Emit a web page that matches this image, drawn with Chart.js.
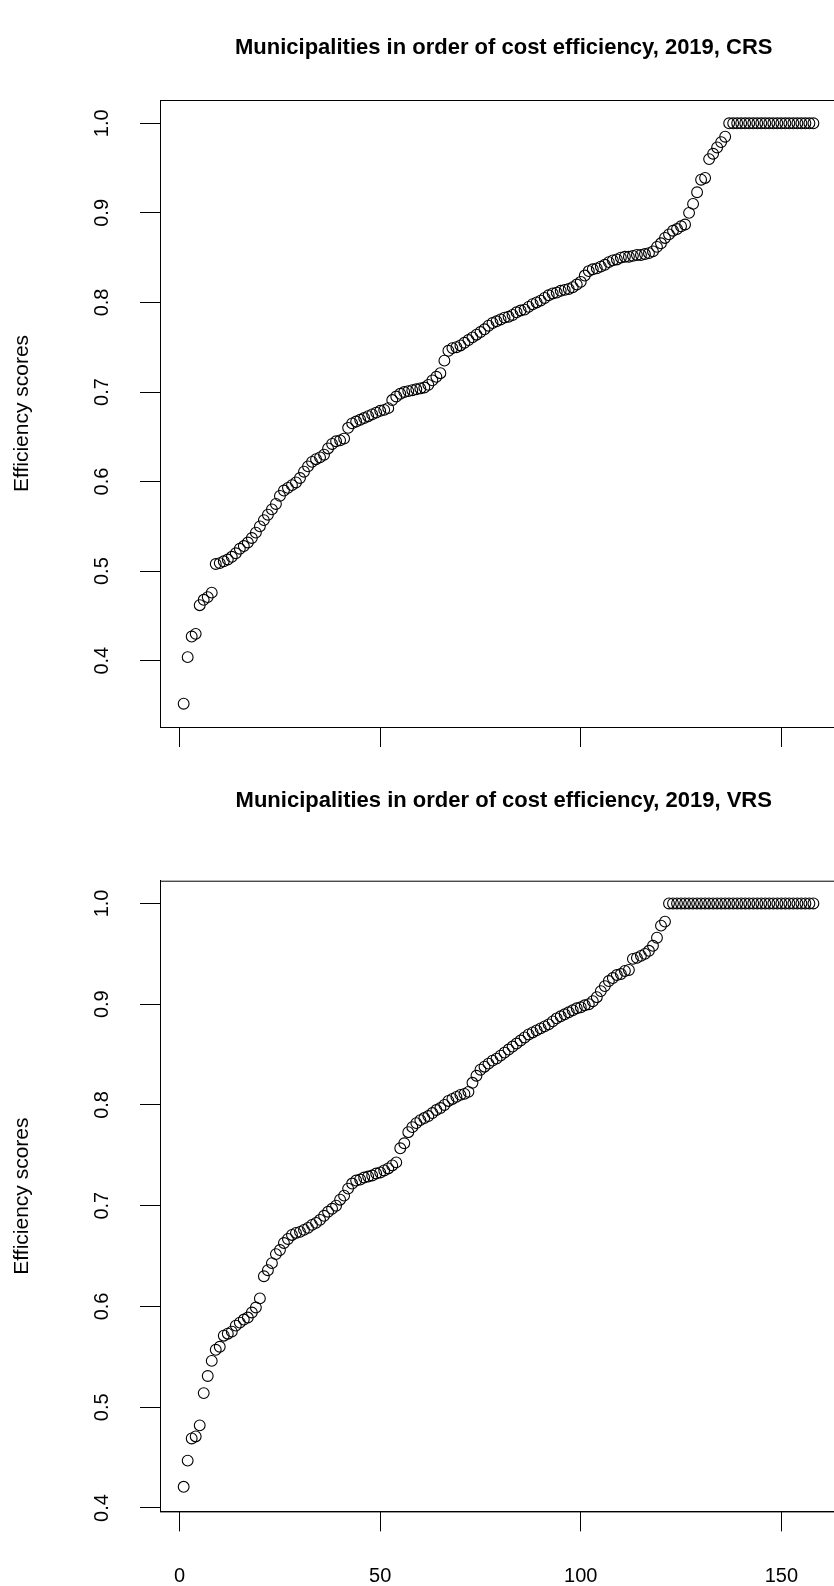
<!DOCTYPE html>
<html>
<head>
<meta charset="utf-8">
<title>Municipalities in order of cost efficiency, 2019</title>
<script src="https://cdn.jsdelivr.net/npm/chart.js@4.4.1/dist/chart.umd.min.js"></script>
<style>
  html, body { margin: 0; padding: 0; background: #fff; overflow: hidden; }
  .plot { position: absolute; left: 0; }
</style>
</head>
<body>
<div class="plot" style="top:0px"><canvas id="crsChart" width="854" height="780"></canvas></div>
<div class="plot" style="top:770px"><canvas id="vrsChart" width="854" height="816"></canvas></div>
<script>
// scores, municipalities sorted from least to most efficient
const crsScores = [
  0.352, 0.404, 0.427, 0.430, 0.462, 0.468, 0.471, 0.476, 0.508, 0.509,
  0.511, 0.513, 0.516, 0.520, 0.525, 0.528, 0.532, 0.537, 0.543, 0.550,
  0.557, 0.563, 0.569, 0.575, 0.584, 0.590, 0.593, 0.596, 0.599, 0.604,
  0.611, 0.617, 0.622, 0.625, 0.627, 0.630, 0.637, 0.642, 0.645, 0.646,
  0.648, 0.660, 0.665, 0.667, 0.669, 0.671, 0.673, 0.675, 0.677, 0.679,
  0.680, 0.682, 0.691, 0.695, 0.698, 0.700, 0.701, 0.702, 0.703, 0.704,
  0.705, 0.708, 0.713, 0.717, 0.721, 0.735, 0.746, 0.749, 0.750, 0.752,
  0.755, 0.758, 0.761, 0.764, 0.767, 0.770, 0.774, 0.777, 0.779, 0.781,
  0.783, 0.784, 0.786, 0.789, 0.791, 0.792, 0.795, 0.798, 0.800, 0.802,
  0.805, 0.808, 0.810, 0.811, 0.813, 0.814, 0.815, 0.817, 0.820, 0.823,
  0.830, 0.835, 0.837, 0.838, 0.840, 0.842, 0.845, 0.847, 0.848, 0.850,
  0.851, 0.851, 0.852, 0.853, 0.853, 0.854, 0.855, 0.857, 0.862, 0.866,
  0.872, 0.876, 0.880, 0.882, 0.885, 0.887, 0.900, 0.910, 0.923, 0.937,
  0.939, 0.960, 0.966, 0.973, 0.979, 0.985, 1.000, 1.000, 1.000, 1.000,
  1.000, 1.000, 1.000, 1.000, 1.000, 1.000, 1.000, 1.000, 1.000, 1.000,
  1.000, 1.000, 1.000, 1.000, 1.000, 1.000, 1.000, 1.000
];

const vrsScores = [
  0.421, 0.447, 0.469, 0.471, 0.482, 0.514, 0.531, 0.546, 0.557, 0.560,
  0.571, 0.573, 0.575, 0.581, 0.584, 0.587, 0.589, 0.594, 0.599, 0.608,
  0.630, 0.636, 0.643, 0.652, 0.656, 0.663, 0.667, 0.671, 0.673, 0.674,
  0.676, 0.678, 0.681, 0.683, 0.686, 0.690, 0.694, 0.697, 0.700, 0.706,
  0.710, 0.717, 0.722, 0.725, 0.726, 0.728, 0.729, 0.730, 0.732, 0.733,
  0.735, 0.737, 0.740, 0.743, 0.757, 0.762, 0.773, 0.778, 0.782, 0.785,
  0.787, 0.789, 0.792, 0.795, 0.797, 0.800, 0.804, 0.806, 0.808, 0.810,
  0.811, 0.813, 0.822, 0.829, 0.835, 0.838, 0.841, 0.844, 0.846, 0.849,
  0.852, 0.855, 0.858, 0.861, 0.864, 0.867, 0.870, 0.872, 0.874, 0.876,
  0.878, 0.880, 0.883, 0.886, 0.888, 0.890, 0.892, 0.894, 0.896, 0.897,
  0.899, 0.900, 0.903, 0.907, 0.913, 0.918, 0.923, 0.926, 0.929, 0.930,
  0.933, 0.934, 0.945, 0.946, 0.948, 0.950, 0.953, 0.958, 0.966, 0.978,
  0.982, 1.000, 1.000, 1.000, 1.000, 1.000, 1.000, 1.000, 1.000, 1.000,
  1.000, 1.000, 1.000, 1.000, 1.000, 1.000, 1.000, 1.000, 1.000, 1.000,
  1.000, 1.000, 1.000, 1.000, 1.000, 1.000, 1.000, 1.000, 1.000, 1.000,
  1.000, 1.000, 1.000, 1.000, 1.000, 1.000, 1.000, 1.000
];

const xTicks = [0, 50, 100, 150];
const yTicks = [0.4, 0.5, 0.6, 0.7, 0.8, 0.9, 1.0];
const yTitle = 'Efficiency scores';
const crsTitle = 'Municipalities in order of cost efficiency, 2019, CRS';
const vrsTitle = 'Municipalities in order of cost efficiency, 2019, VRS';

Chart.defaults.font.family = '"Liberation Sans", Arial, sans-serif';
Chart.defaults.color = '#000';

// R-style frame round the plot region
const boxPlugin = {
  id: 'box',
  afterDraw(chart) {
    const { ctx, chartArea: a } = chart;
    ctx.save();
    ctx.strokeStyle = '#000';
    ctx.lineWidth = 1;
    ctx.strokeRect(a.left + 0.5, a.top + 0.5, a.right - a.left, a.bottom - a.top);
    ctx.restore();
  }
};

function makePlot(id, title, scores, yMin, yMax, opts) {
  const points = scores.map((v, i) => ({ x: i + 1, y: v }));
  return new Chart(document.getElementById(id).getContext('2d'), {
    type: 'scatter',
    data: {
      datasets: [{
        data: points,
        borderColor: '#000',
        backgroundColor: 'rgba(0,0,0,0)',
        pointRadius: 5.4,
        pointBorderWidth: 1.1,
        pointHoverRadius: 5.4
      }]
    },
    plugins: [boxPlugin],
    options: {
      responsive: false,
      animation: false,
      events: [],
      layout: { padding: 0 },
      plugins: {
        legend: { display: false },
        tooltip: { enabled: false },
        title: {
          display: true,
          text: title,
          fullSize: false,
          color: '#000',
          font: { size: 22, weight: 'bold' },
          padding: { top: opts.titleTop, bottom: opts.titleBottom }
        }
      },
      scales: {
        x: {
          type: 'linear',
          min: -4.9,
          max: 166.5,
          afterBuildTicks: s => { s.ticks = xTicks.map(v => ({ value: v })); },
          afterFit: s => { s.height = opts.xHeight; },
          grid: { drawOnChartArea: false, drawTicks: true, tickLength: 20, color: '#000' },
          border: { display: true, color: '#000' },
          ticks: {
            color: opts.xLabels ? '#000' : 'rgba(0,0,0,0)',
            font: { size: 20 },
            padding: 33,
            minRotation: 0,
            maxRotation: 0,
            autoSkip: false
          }
        },
        y: {
          type: 'linear',
          min: yMin,
          max: yMax,
          afterBuildTicks: s => { s.ticks = yTicks.map(v => ({ value: v })); },
          afterFit: s => { s.width = 160; },
          grid: { drawOnChartArea: false, drawTicks: true, tickLength: 20, color: '#000' },
          border: { display: true, color: '#000' },
          ticks: {
            color: '#000',
            font: { size: 20 },
            minRotation: 90,
            maxRotation: 90,
            crossAlign: 'center',
            padding: 24,
            callback: v => v.toFixed(1)
          },
          title: {
            display: true,
            text: yTitle,
            color: '#000',
            font: { size: 21 },
            padding: { top: 10, bottom: 0 }
          }
        }
      }
    }
  });
}

makePlot('crsChart', crsTitle, crsScores, 0.326, 1.026,
  { titleTop: 34.3, titleBottom: 39.3, xHeight: 53, xLabels: false });
makePlot('vrsChart', vrsTitle, vrsScores, 0.3966, 1.0226,
  { titleTop: 17.8, titleBottom: 66.5, xHeight: 74.6, xLabels: true });
</script>
</body>
</html>
